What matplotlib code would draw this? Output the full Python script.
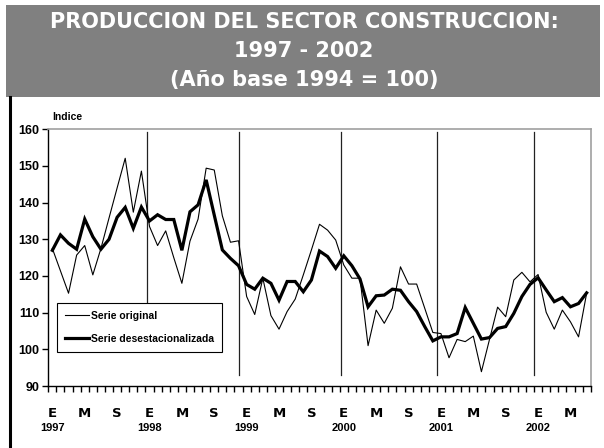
import matplotlib
matplotlib.use("Agg")
import matplotlib.pyplot as plt
from matplotlib import font_manager
from matplotlib.lines import Line2D
from matplotlib.patches import Rectangle
import matplotlib.transforms as mtransforms

# Indice de produccion del sector construccion, enero 1997 - julio 2002
serie_original = [
    127.5, 121.4, 115.3, 125.7, 128.3, 120.3, 127.5, 135.8, 144.0, 152.1, 137.4, 148.6,  # 1997
    133.5, 128.3, 132.3, 125.0, 118.0, 129.5, 135.5, 149.4, 148.9, 136.4, 129.2, 129.6,  # 1998
    114.4, 109.5, 119.4, 109.2, 105.5, 110.3, 113.7, 120.3, 127.1, 134.1, 132.5, 129.8,  # 1999
    123.0, 119.4, 119.4, 101.0, 110.7, 107.1, 111.2, 122.5, 117.8, 117.8, 111.2, 104.6,  # 2000
    104.3, 97.7, 102.7, 102.1, 103.6, 93.9, 102.7, 111.5, 108.9, 118.9, 121.0, 118.4,    # 2001
    120.4, 110.1, 105.5, 110.7, 107.5, 103.4, 115.3,                                      # 2002
]
serie_desest = [
    127.0, 131.2, 128.9, 127.3, 135.5, 130.7, 127.3, 130.0, 136.0, 138.7, 133.0, 138.8,
    135.0, 136.7, 135.4, 135.4, 127.0, 137.5, 139.4, 146.2, 136.6, 127.1, 124.8, 122.8,
    117.7, 116.4, 119.4, 118.0, 113.4, 118.5, 118.5, 115.7, 118.9, 126.8, 125.3, 122.1,
    125.5, 122.8, 119.2, 111.6, 114.6, 114.8, 116.4, 116.1, 113.0, 110.3, 106.2, 102.3,
    103.4, 103.4, 104.3, 111.4, 107.1, 102.8, 103.2, 105.7, 106.2, 109.8, 114.4, 117.7,
    119.5, 116.2, 113.0, 114.1, 111.6, 112.5, 115.4,
]
letras_mes = ["E", "M", "S"]      # enero, mayo, septiembre
anios = ["1997", "1998", "1999", "2000", "2001", "2002"]
y_ticks = [90, 100, 110, 120, 130, 140, 150, 160]

# separadores de año (dibujados a mano en el original)
sep_x = [11.65, 23.0, 35.65, 47.55, 59.5]
sep_bottom = [111.5, 93, 93, 93, 93]

names = {f.name for f in font_manager.fontManager.ttflist}
narrow = "Liberation Sans Narrow" if "Liberation Sans Narrow" in names else "Liberation Sans"

W, H = 604, 448
fig = plt.figure(figsize=(W / 100, H / 100), dpi=100)
fig.patch.set_facecolor("white")

# banner del titulo
fig.patches.append(Rectangle((6 / W, 1 - 97 / H), 594 / W, 92 / H,
                             transform=fig.transFigure, facecolor="#808080",
                             edgecolor="none", zorder=0))
titulo = ["PRODUCCION DEL SECTOR CONSTRUCCION:", "1997 - 2002", "(Año base 1994 = 100)"]
for k, ty in enumerate([22, 51, 80]):
    fig.text(304 / W, 1 - ty / H, titulo[k], color="white", fontsize=15,
             fontweight="bold", family="DejaVu Sans", ha="center", va="center")

# borde izquierdo negro
fig.add_artist(Line2D([10 / W, 10 / W], [0, 1 - 97 / H], transform=fig.transFigure,
                      color="black", lw=2.2))

ax = fig.add_axes([48.3 / W, 1 - 386 / H, 542.4 / W, 256.7 / H])
x = list(range(len(serie_original)))
ax.plot(x, serie_original, color="black", lw=0.8, label="Serie original", zorder=3)
ax.plot(x, serie_desest, color="black", lw=2.3, label="Serie desestacionalizada",
        zorder=4, solid_joinstyle="miter")

for sx, sb in zip(sep_x, sep_bottom):
    ax.plot([sx, sx], [sb, 159.2], color="#222222", lw=0.9, zorder=2)

ax.set_xlim(-0.5, len(x) - 0.5)
ax.set_ylim(90, 160)

for side in ["top", "right"]:
    ax.spines[side].set_color("#a0a0a0")
    ax.spines[side].set_linewidth(1.2)
for side in ["left", "bottom"]:
    ax.spines[side].set_color("black")
    ax.spines[side].set_linewidth(1.0)

ax.set_yticks(y_ticks)
ax.set_yticklabels([str(v) for v in y_ticks], family=narrow, fontweight="bold", fontsize=9)
ax.tick_params(axis="y", direction="out", length=4, width=1, pad=2.5)

major = list(range(0, len(x), 4))
ax.set_xticks(major)
ax.set_xticklabels([letras_mes[(m % 12) // 4] for m in major], family="DejaVu Sans",
                   fontweight="bold", fontsize=9.5)
ax.tick_params(axis="x", which="major", length=0, pad=15)
ax.set_xticks([i - 0.5 for i in range(len(x) + 1)], minor=True)
ax.tick_params(axis="x", which="minor", direction="out", length=4, width=1)

trans = mtransforms.blended_transform_factory(ax.transData, ax.transAxes)
for k, a in enumerate(anios):
    ax.text(k * 12, -42 / 256.7, a, transform=trans, ha="center", va="center",
            family=narrow, fontweight="bold", fontsize=8)

ax.text(4 / 542.4, 1 + 12.6 / 256.7, "Indice", transform=ax.transAxes, ha="left",
        va="center", family=narrow, fontweight="bold", fontsize=7.5)

leg = ax.legend(loc="upper left", bbox_to_anchor=(9 / 542.4, 82.7 / 256.7),
                borderaxespad=0, fancybox=False, framealpha=1, edgecolor="black",
                prop={"family": narrow, "weight": "bold", "size": 7.5},
                handlelength=2.3, handletextpad=0.15, borderpad=0.75, labelspacing=1.25)
leg.get_frame().set_linewidth(0.8)
leg.set_zorder(10)

fig.savefig("out.png", dpi=100, facecolor="white")
